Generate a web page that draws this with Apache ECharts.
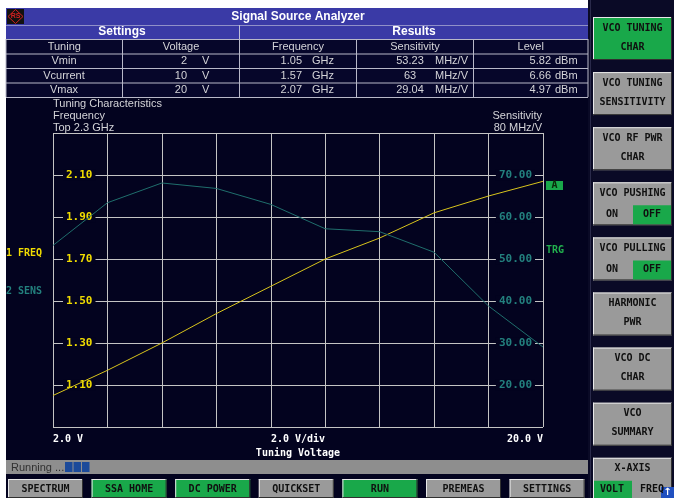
<!DOCTYPE html>
<html>
<head>
<meta charset="utf-8">
<script src="https://cdn.jsdelivr.net/npm/echarts@6/dist/echarts.min.js"></script>
<style>
  html, body { margin: 0; padding: 0; background: #ffffff; }
  #main { width: 674px; height: 498px; }
</style>
</head>
<body>
<div id="main"></div>
<script>
// measured data (tuning voltage sweep)
var voltages = [2, 4, 6, 8, 10, 12, 14, 16, 18, 20];
var frequency = [1.05, 1.17, 1.30, 1.44, 1.57, 1.70, 1.80, 1.92, 2.00, 2.07];   // GHz
var sensitivity = [53.23, 63.4, 68.1, 66.8, 63, 57.2, 56.5, 51.6, 38.8, 29.04]; // MHz/V

// results table
var tableCols = ['Tuning', 'Voltage', 'Frequency', 'Sensitivity', 'Level'];
var tuningRows = ['Vmin', 'Vcurrent', 'Vmax'];
var voltageVals = ['2', '10', '20'];
var freqVals = ['1.05', '1.57', '2.07'];
var sensVals = ['53.23', '63', '29.04'];
var levelVals = ['5.82', '6.66', '4.97'];

// softkeys
var sideKeys = [['VCO TUNING', 'CHAR'], ['VCO TUNING', 'SENSITIVITY'], ['VCO RF PWR', 'CHAR'],
  ['VCO PUSHING', 'ON|OFF'], ['VCO PULLING', 'ON|OFF'], ['HARMONIC', 'PWR'],
  ['VCO DC', 'CHAR'], ['VCO', 'SUMMARY'], ['X-AXIS', 'VOLT|FREQ']];
var bottomKeys = ['SPECTRUM', 'SSA HOME', 'DC POWER', 'QUICKSET', 'RUN', 'PREMEAS', 'SETTINGS'];
var greenBottom = ['SSA HOME', 'DC POWER', 'RUN'];

var NAVY = '#03031f';
var BLUE = '#3a3aa6';
var GREEN = '#19a84a';
var GREY = '#9a9a9a';
var YELLOW = '#f0dc00';
var TEAL = '#23807e';
var TXT = '#d4d4d8';
var sans = '11px "Liberation Sans", Arial, sans-serif';
var mono = 'bold 10px "DejaVu Sans Mono", monospace';

var g = [];
function rect(x, y, w, h, fill, stroke) {
  g.push({ type: 'rect', shape: { x: x, y: y, width: w, height: h },
    style: { fill: fill, stroke: stroke || null, lineWidth: 1 }, silent: true });
}
function line(x1, y1, x2, y2, c) {
  g.push({ type: 'line', shape: { x1: x1, y1: y1, x2: x2, y2: y2 },
    style: { stroke: c, lineWidth: 1 }, silent: true });
}
function text(x, y, s, fill, font, align) {
  g.push({ type: 'text', x: x, y: y, silent: true, z: 10,
    style: { text: s, fill: fill, font: font, align: align || 'left', textAlign: align || 'left',
      verticalAlign: 'middle', textVerticalAlign: 'middle' } });
}
function button(x, y, w, h, fill) {
  rect(x, y, w, h, fill);
  line(x, y + 0.5, x + w, y + 0.5, '#e8e8e8');
  line(x + 0.5, y, x + 0.5, y + h, '#e8e8e8');
  line(x, y + h - 0.5, x + w, y + h - 0.5, '#303030');
  line(x + w - 0.5, y, x + w - 0.5, y + h, '#303030');
}

// screen frame
rect(6, 8, 582, 490, NAVY);
rect(588, 0, 86, 498, '#0a0a26');
line(590.5, 0, 590.5, 498, '#2a2a4a');

// title and table
rect(6, 8, 582, 17, BLUE);
rect(7, 9, 17, 15, '#111111');
g.push({ type: 'polygon', shape: { points: [[15.5, 9.5], [23, 16.5], [15.5, 23.5], [8, 16.5]] },
  style: { fill: null, stroke: '#d02020', lineWidth: 1 }, silent: true });
text(15.5, 16.5, 'RS', '#d02020', 'bold 7px "Liberation Sans", sans-serif', 'center');
text(298, 16.5, 'Signal Source Analyzer', '#ffffff', 'bold 12px "Liberation Sans", Arial, sans-serif', 'center');
rect(6, 25, 582, 14, BLUE);
line(6, 25.5, 588, 25.5, '#9090c8');
line(239.5, 25, 239.5, 39, '#c0c0d8');
text(122, 32, 'Settings', '#ffffff', 'bold 12px "Liberation Sans", Arial, sans-serif', 'center');
text(414, 32, 'Results', '#ffffff', 'bold 12px "Liberation Sans", Arial, sans-serif', 'center');

var colX = [6, 122.5, 239.5, 356.5, 473.5, 588];
var rowY = [39, 53.5, 68, 82.5, 97];
rect(6, 39, 582, 58, '#06062a');
for (var i = 0; i < rowY.length; i++) line(6, rowY[i] + 0.5, 588, rowY[i] + 0.5, '#b8b8c8');
for (var c = 0; c < colX.length; c++) line(colX[c], 39, colX[c], 97, '#b8b8c8');
for (c = 0; c < tableCols.length; c++) text((colX[c] + colX[c + 1]) / 2, 46.5, tableCols[c], TXT, sans, 'center');
for (var r = 0; r < tuningRows.length; r++) {
  var yy = (rowY[r + 1] + rowY[r + 2]) / 2 + 0.5;
  text(64, yy, tuningRows[r], TXT, sans, 'center');
  text(187, yy, voltageVals[r], TXT, sans, 'right');
  text(202, yy, 'V', TXT, sans);
  text(302, yy, freqVals[r], TXT, sans, 'right');
  text(312, yy, 'GHz', TXT, sans);
  text(410, yy, sensVals[r], TXT, sans, 'center');
  text(435, yy, 'MHz/V', TXT, sans);
  text(551, yy, levelVals[r], TXT, sans, 'right');
  text(555, yy, 'dBm', TXT, sans);
}

// diagram annotations
text(53, 104, 'Tuning Characteristics', TXT, sans);
text(53, 116, 'Frequency', TXT, sans);
text(53, 128, 'Top 2.3 GHz', TXT, sans);
text(542, 116, 'Sensitivity', TXT, sans, 'right');
text(542, 128, '80 MHz/V', TXT, sans, 'right');
text(6, 253, '1 FREQ', YELLOW, mono);
text(6, 291, '2 SENS', TEAL, mono);
rect(546, 181, 17, 9, GREEN);
text(554.5, 185.5, 'A', '#0a2a0a', mono, 'center');
text(546, 250, 'TRG', '#22b04e', mono);
text(298, 439, '2.0 V/div', '#ffffff', mono, 'center');
text(298, 453, 'Tuning Voltage', '#ffffff', mono, 'center');

// status bar
rect(6, 460, 582, 14, '#8e8e8e');
text(11, 467.5, 'Running ...', '#303030', sans);
for (i = 0; i < 3; i++) rect(65 + i * 8.5, 462, 7.5, 10, '#1c4a9a');

// bottom keys
for (i = 0; i < bottomKeys.length; i++) {
  var bx = 8 + i * 83.6;
  var isG = greenBottom.indexOf(bottomKeys[i]) >= 0;
  button(bx, 479, 75, 19, isG ? GREEN : GREY);
  text(bx + 37.5, 489, bottomKeys[i], '#101010', mono, 'center');
}

// side keys
for (i = 0; i < sideKeys.length; i++) {
  var ky = 17 + i * 55.1;
  button(593, ky, 79, 43, i === 0 ? GREEN : GREY);
  text(632.5, ky + 11, sideKeys[i][0], '#101010', mono, 'center');
  var sub = sideKeys[i][1];
  if (sub.indexOf('|') >= 0) {
    var parts = sub.split('|');
    var leftOn = parts[0] === 'VOLT';
    rect(leftOn ? 594 : 633, ky + 23, 38, 19, GREEN);
    text(612, ky + 32, parts[0], '#101010', mono, 'center');
    text(652, ky + 32, parts[1], '#101010', mono, 'center');
  } else {
    text(632.5, ky + 30, sub, '#101010', mono, 'center');
  }
}
rect(661, 487, 13, 11, '#2050c0');
text(667.5, 492.5, '\u2191', '#ffffff', 'bold 10px "DejaVu Sans", sans-serif', 'center');

var myChart = echarts.init(document.getElementById('main'));
myChart.setOption({
  animation: false,
  backgroundColor: 'transparent',
  grid: { left: 53, top: 133, width: 490, height: 294, show: true,
    borderColor: '#c8c8c8', borderWidth: 1, backgroundColor: 'transparent' },
  xAxis: {
    type: 'value', min: 2, max: 20, interval: 2,
    axisLine: { show: false }, axisTick: { show: false },
    splitLine: { show: true, lineStyle: { color: '#c4c4c4', width: 1 } },
    axisLabel: {
      color: '#ffffff', fontFamily: '"DejaVu Sans Mono", monospace', fontWeight: 'bold', fontSize: 10,
      margin: 7, alignMinLabel: 'left', alignMaxLabel: 'right',
      formatter: function (v) { return v === 2 ? '2.0 V' : (v === 20 ? '20.0 V' : ''); }
    }
  },
  yAxis: [{
    type: 'value', min: 0.9, max: 2.3, interval: 0.2, position: 'left',
    axisLine: { show: false }, axisTick: { show: false },
    splitLine: { show: true, lineStyle: { color: '#c4c4c4', width: 1 } },
    axisLabel: {
      inside: true, margin: 10, showMinLabel: false, showMaxLabel: false,
      color: YELLOW, fontFamily: '"DejaVu Sans Mono", monospace', fontWeight: 'bold', fontSize: 11,
      backgroundColor: NAVY, padding: [0, 3],
      formatter: function (v) { return v.toFixed(2); }
    }
  }, {
    type: 'value', min: 10, max: 80, interval: 10, position: 'right',
    axisLine: { show: false }, axisTick: { show: false }, splitLine: { show: false },
    axisLabel: {
      inside: true, margin: 8, showMinLabel: false, showMaxLabel: false,
      color: TEAL, fontFamily: '"DejaVu Sans Mono", monospace', fontWeight: 'bold', fontSize: 11,
      backgroundColor: NAVY, padding: [0, 3],
      formatter: function (v) { return v.toFixed(2); }
    }
  }],
  series: [{
    name: 'FREQ', type: 'line', yAxisIndex: 0, showSymbol: false,
    lineStyle: { color: '#d8c41c', width: 1 },
    data: voltages.map(function (v, k) { return [v, frequency[k]]; })
  }, {
    name: 'SENS', type: 'line', yAxisIndex: 1, showSymbol: false,
    lineStyle: { color: '#1f6e6c', width: 1 },
    data: voltages.map(function (v, k) { return [v, sensitivity[k]]; })
  }],
  graphic: g
});
</script>
</body>
</html>
